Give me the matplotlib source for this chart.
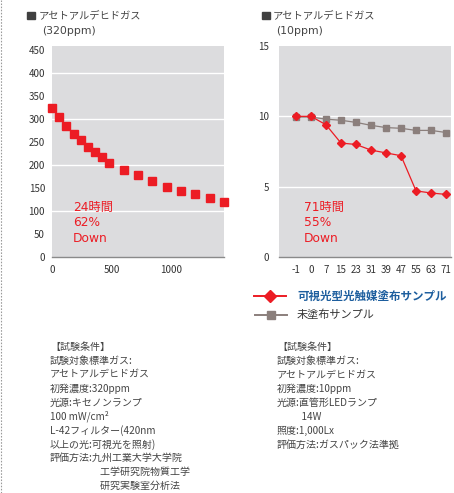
import matplotlib
matplotlib.use("Agg")
import matplotlib.pyplot as plt
from matplotlib.lines import Line2D
from matplotlib.patches import Rectangle

plt.rcParams['font.family'] = ['Noto Sans CJK JP', 'DejaVu Sans']
LATIN_FIRST = ['DejaVu Sans', 'Noto Sans CJK JP']

# Left panel: 320ppm acetaldehyde, elapsed minutes vs. concentration
minutes = [0, 60, 120, 180, 240, 300, 360, 420, 480, 600, 720, 840, 960, 1080, 1200, 1320, 1440]
conc_320 = [323, 304, 284, 267, 254, 238, 228, 217, 205, 188, 178, 165, 152, 143, 136, 128, 120]
left_yticks = [0, 50, 100, 150, 200, 250, 300, 350, 400, 450]
left_xticks = [0, 500, 1000]

# Right panel: 10ppm acetaldehyde, elapsed hours (categorical)
hours = ['-1', '0', '7', '15', '23', '31', '39', '47', '55', '63', '71']
coated = [10.0, 10.0, 9.4, 8.1, 8.0, 7.6, 7.4, 7.2, 4.7, 4.55, 4.45]
uncoated = [9.95, 9.95, 9.8, 9.72, 9.57, 9.36, 9.2, 9.15, 9.0, 9.0, 8.85]
right_yticks = [0, 5, 10, 15]

title_gas = 'アセトアルデヒドガス'
left_sub = '(320ppm)'
right_sub = '(10ppm)'
left_note = ['24時間', '62%', 'Down']
right_note = ['71時間', '55%', 'Down']
legend_coated = '可視光型光触媒塗布サンプル'
legend_uncoated = '未塗布サンプル'

left_cond = ['【試験条件】', '試験対象標準ガス:', 'アセトアルデヒドガス', '初発濃度:320ppm',
             '光源:キセノンランプ', '100 mW/cm²', 'L-42フィルター(420nm',
             '以上の光:可視光を照射)', '評価方法:九州工業大学大学院',
             '　　　　　工学研究院物質工学', '　　　　　研究実験室分析法']
right_cond = ['【試験条件】', '試験対象標準ガス:', 'アセトアルデヒドガス', '初発濃度:10ppm',
              '光源:直管形LEDランプ', '　　  14W', '照度:1,000Lx', '評価方法:ガスパック法準拠']

RED = '#ec1c24'
GRAY = '#8b7f7c'
PANEL = '#dcdcde'
TXT = '#444444'

W, H = 454, 493
fig = plt.figure(figsize=(W / 100, H / 100), dpi=100)


def fx(px):
    return px / W


def fy(py):
    return 1 - py / H


def style_axes(ax):
    ax.set_facecolor(PANEL)
    for s in ('left', 'right', 'top'):
        ax.spines[s].set_visible(False)
    ax.spines['bottom'].set_color('#8a8a8a')
    ax.spines['bottom'].set_linewidth(1.0)
    ax.tick_params(length=0, labelsize=7, colors='#333333')
    ax.grid(False)


# ---- left panel
axL = fig.add_axes([fx(52), fy(257), fx(172), (257 - 46) / H])
style_axes(axL)
axL.set_xlim(0, 1440)
axL.set_ylim(0, 458)
for g in (100, 200, 300, 400):
    axL.axhline(g, color='white', lw=1.0, zorder=1)
axL.plot(minutes, conc_320, linestyle='none', marker='s', ms=5.6,
         color=RED, mec=RED, clip_on=False, zorder=3)
axL.set_yticks(left_yticks)
axL.set_xticks(left_xticks)
axL.tick_params(axis='y', pad=5)
axL.tick_params(axis='x', pad=6)
for i, t in enumerate(left_note):
    fig.text(fx(73), fy(208 + 15 * i), t, color=RED, fontsize=8.8,
             va='center', ha='left', family=LATIN_FIRST)

# ---- right panel
axR = fig.add_axes([fx(279), fy(257), fx(172), (257 - 46) / H])
style_axes(axR)
xs = list(range(len(hours)))
axR.set_xlim(-1.13, 10.33)
axR.set_ylim(0, 15)
for g in (5, 10):
    axR.axhline(g, color='white', lw=1.0, zorder=1)
axR.plot(xs, uncoated, marker='s', ms=3.8, color=GRAY, lw=0.9, zorder=2, clip_on=False)
axR.plot(xs, coated, marker='D', ms=4.2, color=RED, lw=0.9, zorder=3, clip_on=False)
axR.set_xticks(xs)
axR.set_xticklabels(hours)
axR.set_yticks(right_yticks)
axR.tick_params(axis='y', pad=7)
axR.tick_params(axis='x', pad=6)
for i, t in enumerate(right_note):
    fig.text(fx(304), fy(208 + 15 * i), t, color=RED, fontsize=8.8,
             va='center', ha='left', family=LATIN_FIRST)

# ---- titles
for sx, tx, sub_x, sub in ((27, 39, 42, left_sub), (262, 273, 276, right_sub)):
    fig.add_artist(Rectangle((fx(sx), fy(19)), fx(7.5), 7.5 / H,
                             transform=fig.transFigure, color='#404040'))
    fig.text(fx(tx), fy(15.5), title_gas, fontsize=7.4, color=TXT, va='center', ha='left')
    fig.text(fx(sub_x), fy(31.5), sub, fontsize=7.8, color=TXT, va='center', ha='left',
             family=LATIN_FIRST)

# ---- legend
fig.add_artist(Line2D([fx(254), fx(286)], [fy(296), fy(296)], transform=fig.transFigure,
                      color=RED, lw=1.4, marker=None))
fig.add_artist(Line2D([fx(270)], [fy(296)], transform=fig.transFigure,
                      color=RED, marker='D', ms=6, linestyle='none'))
fig.text(fx(297), fy(296), legend_coated, fontsize=8.3, color='#1d5e9e',
         fontweight='bold', va='center', ha='left')
fig.add_artist(Line2D([fx(255), fx(287)], [fy(315), fy(315)], transform=fig.transFigure,
                      color=GRAY, lw=1.4))
fig.add_artist(Line2D([fx(271)], [fy(315)], transform=fig.transFigure,
                      color=GRAY, marker='s', ms=5.5, linestyle='none'))
fig.text(fx(297), fy(315), legend_uncoated, fontsize=8.0, color='#333333',
         va='center', ha='left')

# ---- test conditions
for i, t in enumerate(left_cond):
    fig.text(fx(50), fy(347 + 13.9 * i), t, fontsize=7.2, color=TXT, va='center', ha='left')
for i, t in enumerate(right_cond):
    fig.text(fx(277), fy(347 + 14.0 * i), t, fontsize=7.2, color=TXT, va='center', ha='left')

# ---- dotted left border
fig.add_artist(Line2D([fx(0.8), fx(0.8)], [0, 1], transform=fig.transFigure,
                      color='#9a9a9a', lw=0.8, linestyle=(0, (1.4, 1.4))))

fig.savefig('out.png', dpi=100, facecolor='white')
